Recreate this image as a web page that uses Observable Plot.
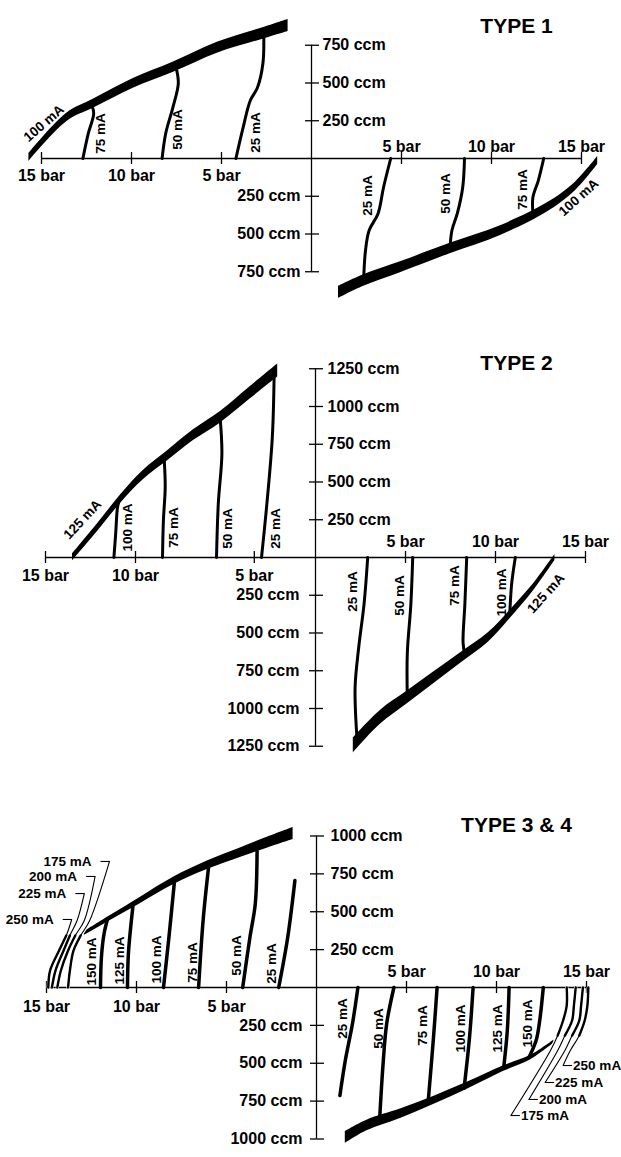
<!DOCTYPE html>
<html><head><meta charset="utf-8">
<script src="https://cdn.jsdelivr.net/npm/d3@7"></script>
<script src="https://cdn.jsdelivr.net/npm/@observablehq/plot@0.6"></script>
<style>
html,body{margin:0;padding:0;background:#fff;}
#chart svg{display:block;}
</style></head><body><div id="chart"></div>
<script>
// ---------- DATA (bar, ccm); left/upper quadrant uses negative bar, lower/right uses negative ccm ----------
// Tick labels
const barLeftText = ["15 bar", "10 bar", "5 bar"];
const barRightText = ["5 bar", "10 bar", "15 bar"];
const barTicksLeft = [-15, -10, -5];
const barTicksRight = [5, 10, 15];
const t2BarTicksLeft = [-15, -10, -3.4];

const t1CcmTicks = [250, 500, 750];
const t2CcmTicks = [250, 500, 750, 1000, 1250];
const t3CcmTicks = [250, 500, 750, 1000];

const titles = ["TYPE 1", "TYPE 2", "TYPE 3 & 4"];

// TYPE 1
const t1Up100 = [[-15.7,7],[-13.6,272],[-12.1,364],[-9.9,497],[-7.7,603],[-5.2,735],[-2.7,828],[-1.3,881]];
const t1Up75 = [[-12.7,0],[-12.4,166],[-12.1,298],[-12.2,351]];
const t1Up50 = [[-8.3,0],[-8.1,166],[-7.7,338],[-7.4,497],[-7.5,590]];
const t1Up25 = [[-4.2,0],[-3.8,205],[-3.4,384],[-3.0,470],[-2.7,629],[-2.65,810]];
const t1Lo100 = [[15.9,-13],[14.6,-192],[13.1,-324],[10.5,-477],[7.7,-596],[4.9,-722],[2.9,-808],[1.5,-887]];
const t1Lo25 = [[4.4,0],[4.0,-192],[3.7,-364],[3.2,-477],[3.0,-609],[2.9,-795]];
const t1Lo50 = [[8.5,0],[8.4,-192],[8.1,-364],[7.8,-477],[7.7,-590]];
const t1Lo75 = [[12.9,0],[12.6,-146],[12.3,-258],[12.3,-360]];

// TYPE 2
const t2Up125 = [[-13.5,0],[-12.1,199],[-10.8,391],[-9.6,543],[-8.2,675],[-6.8,808],[-5.3,927],[-3.6,1093],[-2.1,1238]];
const t2Up100 = [[-11.2,0],[-11.1,159],[-11.0,331],[-10.9,377]];
const t2Up75 = [[-8.5,0],[-8.45,245],[-8.35,463],[-8.4,640]];
const t2Up50 = [[-5.5,0],[-5.4,357],[-5.2,688],[-5.3,927]];
const t2Up25 = [[-3.0,0],[-2.7,357],[-2.4,794],[-2.3,1190]];
const t2Lo125 = [[13.3,0],[12.1,-199],[11.0,-351],[9.6,-530],[8.1,-662],[6.6,-794],[5.1,-927],[3.6,-1059],[2.1,-1245]];
const t2Lo25 = [[2.9,0],[2.7,-305],[2.4,-596],[2.2,-861],[2.3,-1190]];
const t2Lo50 = [[5.4,0],[5.3,-305],[5.1,-636],[5.1,-927]];
const t2Lo75 = [[8.4,0],[8.3,-305],[8.2,-569],[8.3,-640]];
const t2Lo100 = [[11.1,0],[10.9,-172],[10.8,-355]];

// TYPE 3 & 4
const t3UpEdge = [[-12.9,356],[-11.4,462],[-9.8,574],[-7.9,706],[-6.1,805],[-4.2,891],[-2.7,957],[-1.3,1016]];
const t3Up150 = [[-12.0,0],[-11.95,198],[-11.8,356],[-11.6,455]];
const t3Up125 = [[-10.5,0],[-10.45,224],[-10.2,535]];
const t3Up100 = [[-8.5,0],[-8.2,330],[-7.9,690]];
const t3Up75 = [[-6.55,0],[-6.3,442],[-6.0,790]];
const t3Up50 = [[-4.1,0],[-3.7,330],[-3.4,554],[-3.3,900]];
const t3Up25 = [[-2.1,0],[-1.6,330],[-1.2,706]];
const t3Up250 = [[-14.9,0],[-14.8,112],[-14.3,244],[-13.9,343],[-13.6,449]];
const t3Up225 = [[-14.7,0],[-14.5,112],[-14.05,244],[-13.7,343],[-13.3,442],[-12.9,620]];
const t3Up200 = [[-14.4,0],[-14.2,112],[-13.8,244],[-13.4,343],[-12.9,442],[-12.3,733]];
const t3Up175 = [[-13.8,0],[-13.7,112],[-13.5,244],[-13.1,343],[-12.6,442],[-11.5,832]];
const t3LoEdge = [[13.2,-356],[11.9,-462],[10.4,-535],[8.4,-647],[6.5,-746],[4.7,-832],[2.8,-911],[1.6,-990]];
const t3Lo25 = [[2.3,0],[2.0,-238],[1.6,-482],[1.3,-713]];
const t3Lo50 = [[4.3,0],[3.9,-238],[3.7,-502],[3.5,-885]];
const t3Lo75 = [[6.7,0],[6.5,-330],[6.2,-760]];
const t3Lo100 = [[8.7,0],[8.5,-330],[8.2,-665]];
const t3Lo125 = [[10.7,0],[10.6,-284],[10.4,-530]];
const t3Lo150 = [[12.6,0],[12.4,-218],[12.2,-350],[11.8,-462]];
const t3Lo175 = [[13.9,0],[13.9,-119],[13.7,-218],[13.4,-317],[13.0,-416],[10.8,-845]];
const t3Lo200 = [[14.4,0],[14.3,-119],[14.2,-218],[13.8,-317],[13.4,-416],[11.8,-739]];
const t3Lo225 = [[14.8,0],[14.7,-119],[14.6,-218],[14.2,-317],[13.8,-416],[12.7,-627]];
const t3Lo250 = [[15.1,0],[15.05,-119],[14.9,-218],[14.6,-317],[14.1,-416],[13.7,-515]];

// ---------- DRAWING ----------
const SX = 18; // px per bar
const FONT = "'Liberation Sans', Arial, Helvetica, sans-serif";
const BOLD = {fontFamily: FONT, fontWeight: "bold", fill: "black"};
const MA_SIZE = 13.5;

function lab(pts, text, dx, dy, k, rot = -90) {
  return {x: pts[0][0] + dx / SX, y: pts[0][1] - dy / k, text, rot};
}
function wedge(pts, h0, h1, k) {
  const n = pts.length;
  return pts.map(([x, y], i) => {
    const h = (h0 + (h1 - h0) * i / (n - 1)) / k;
    return {x, lo: y - h, hi: y + h};
  });
}
const ccmText = v => v + " ccm";

function buildPanel(c) {
  const k = c.k;
  const ax = {stroke: "black", strokeWidth: 1.3};
  const marks = [];
  marks.push(Plot.ruleY([0], {x1: -15, x2: 15, ...ax}));
  marks.push(Plot.ruleX([0], {y1: -c.ccmMax, y2: c.ccmMax, ...ax}));
  marks.push(Plot.ruleX([...c.xLeft, ...barTicksRight], {x: d => d, y1: -6 / k, y2: 6 / k, ...ax}));
  const yT = [...c.ccmTicks, ...c.ccmTicks.map(v => -v)];
  marks.push(Plot.ruleY(yT, {y: d => d, x1: -6 / SX, x2: 8 / SX, ...ax}));
  marks.push(Plot.text(c.xLeft, {x: d => d, y: 0, text: (d, i) => barLeftText[i], dy: c.xLeftDy, fontSize: 16, ...BOLD}));
  marks.push(Plot.text(barTicksRight, {x: d => d, y: 0, text: (d, i) => barRightText[i], dy: c.xRightDy, fontSize: 16, ...BOLD}));
  marks.push(Plot.text(c.ccmTicks, {x: 0, y: d => d, text: ccmText, dx: c.yTopDx, textAnchor: "start", fontSize: 16, ...BOLD}));
  marks.push(Plot.text(c.ccmTicks, {x: 0, y: d => -d, text: ccmText, dx: c.yBotDx, textAnchor: "end", fontSize: 16, ...BOLD}));
  for (const pts of c.lines) {
    marks.push(Plot.line(pts, {x: d => d[0], y: d => d[1], stroke: "black", strokeWidth: c.lw, curve: "catmull-rom"}));
  }
  for (const w of c.wedges) {
    marks.push(Plot.areaY(wedge(w.pts, w.h0, w.h1, k), {x: "x", y1: "lo", y2: "hi", fill: "black", curve: "catmull-rom"}));
  }
  for (const b of (c.bundles || [])) {
    const last = b.pts[b.pts.length - 1];
    const base = {x: d => d[0], y: d => d[1], curve: "catmull-rom"};
    marks.push(Plot.line(b.pts, {...base, stroke: "white", strokeWidth: 3.4}));
    marks.push(Plot.line(b.pts, {...base, stroke: "black", strokeWidth: 1.1}));
    marks.push(Plot.line(b.pts.slice(0, 4), {...base, stroke: "black", strokeWidth: 2.4}));
    const sgn = b.side === "left" ? -1 : 1;
    marks.push(Plot.link([last], {x1: d => d[0], y1: d => d[1], x2: d => d[0] + sgn * 9 / SX, y2: d => d[1], stroke: "black", strokeWidth: 1.1}));
    marks.push(Plot.text([last], {x: d => d[0] + sgn * (b.side === "left" ? 18 : 10) / SX, y: d => d[1], text: () => b.text,
      textAnchor: b.side === "left" ? "end" : "start", fontSize: MA_SIZE, ...BOLD}));
  }
  marks.push(Plot.text(c.labels, {x: "x", y: "y", text: "text", rotate: "rot", textAnchor: "middle", fontSize: MA_SIZE, ...BOLD}));
  marks.push(Plot.text([c.title], {frameAnchor: "top-left", dx: 516, dy: c.titleDy, text: d => d, textAnchor: "middle", fontSize: 21, ...BOLD}));

  return Plot.plot({
    width: 621, height: c.H, margin: 0,
    x: {axis: null, domain: [0, 15], range: [c.x0, c.x0 + 15 * SX]},
    y: {axis: null, domain: [0, 1000], range: [c.y0, c.y0 - 1000 * k]},
    style: {fontFamily: FONT, background: "white", overflow: "visible"},
    marks
  });
}

const k1 = 0.151, k2 = 0.151, k3 = 0.1515;
const p1 = buildPanel({
  H: 305, x0: 311, y0: 158, k: k1, ccmMax: 750, ccmTicks: t1CcmTicks, xLeft: barTicksLeft,
  xLeftDy: 17, xRightDy: -12, yTopDx: 11, yBotDx: -11, lw: 3, title: titles[0], titleDy: 18,
  lines: [t1Up75, t1Up50, t1Up25, t1Lo25, t1Lo50, t1Lo75],
  wedges: [{pts: t1Up100, h0: 4, h1: 6}, {pts: t1Lo100, h0: 4, h1: 6}],
  labels: [
    lab(t1Up100, "100 mA", 15, -34, k1, -41), lab(t1Up75, "75 mA", 18, -25, k1), lab(t1Up50, "50 mA", 16, -29, k1), lab(t1Up25, "25 mA", 20, -26, k1),
    lab(t1Lo100, "100 mA", -19, 37, k1, -42), lab(t1Lo75, "75 mA", -21, 31, k1), lab(t1Lo50, "50 mA", -19, 35, k1), lab(t1Lo25, "25 mA", -23, 37, k1)
  ]
});
const p2 = buildPanel({
  H: 465, x0: 315, y0: 252, k: k2, ccmMax: 1250, ccmTicks: t2CcmTicks, xLeft: t2BarTicksLeft,
  xLeftDy: 18, xRightDy: -16, yTopDx: 12, yBotDx: -16, lw: 3, title: titles[1], titleDy: 50,
  lines: [t2Up100, t2Up75, t2Up50, t2Up25, t2Lo25, t2Lo50, t2Lo75, t2Lo100],
  wedges: [{pts: t2Up125, h0: 3.5, h1: 6.5}, {pts: t2Lo125, h0: 3, h1: 7.5}],
  labels: [
    lab(t2Up125, "125 mA", 10, -38, k2, -47), lab(t2Up100, "100 mA", 14, -30, k2), lab(t2Up75, "75 mA", 11, -30, k2),
    lab(t2Up50, "50 mA", 11, -29, k2), lab(t2Up25, "25 mA", 14, -29, k2),
    lab(t2Lo125, "125 mA", -9, 36, k2, -48), lab(t2Lo100, "100 mA", -14, 35, k2), lab(t2Lo75, "75 mA", -12, 28, k2),
    lab(t2Lo50, "50 mA", -13, 38, k2), lab(t2Lo25, "25 mA", -15, 34, k2)
  ]
});
const p3 = buildPanel({
  H: 387, x0: 316, y0: 217, k: k3, ccmMax: 1000, ccmTicks: t3CcmTicks, xLeft: barTicksLeft,
  xLeftDy: 19, xRightDy: -16, yTopDx: 14, yBotDx: -14, lw: 3.5, title: titles[2], titleDy: 47,
  lines: [t3Up150, t3Up125, t3Up100, t3Up75, t3Up50, t3Up25, t3Lo25, t3Lo50, t3Lo75, t3Lo100, t3Lo125, t3Lo150],
  wedges: [{pts: t3UpEdge, h0: 2, h1: 6}, {pts: t3LoEdge, h0: 1.5, h1: 6}],
  bundles: [
    {pts: t3Up250, text: "250 mA", side: "left"}, {pts: t3Up225, text: "225 mA", side: "left"},
    {pts: t3Up200, text: "200 mA", side: "left"}, {pts: t3Up175, text: "175 mA", side: "left"},
    {pts: t3Lo250, text: "250 mA", side: "right"}, {pts: t3Lo225, text: "225 mA", side: "right"},
    {pts: t3Lo200, text: "200 mA", side: "right"}, {pts: t3Lo175, text: "175 mA", side: "right"}
  ],
  labels: [
    lab(t3Up150, "150 mA", -9, -26, k3), lab(t3Up125, "125 mA", -8, -27, k3), lab(t3Up100, "100 mA", -7, -28, k3),
    lab(t3Up75, "75 mA", -6, -25, k3), lab(t3Up50, "50 mA", -6, -32, k3), lab(t3Up25, "25 mA", -7, -24, k3),
    lab(t3Lo25, "25 mA", -15, 31, k3), lab(t3Lo50, "50 mA", -15, 41, k3), lab(t3Lo75, "75 mA", -14, 38, k3),
    lab(t3Lo100, "100 mA", -12, 41, k3), lab(t3Lo125, "125 mA", -11, 41, k3), lab(t3Lo150, "150 mA", -16, 36, k3)
  ]
});
const root = document.getElementById("chart");
root.append(p1, p2, p3);
</script></body></html>
